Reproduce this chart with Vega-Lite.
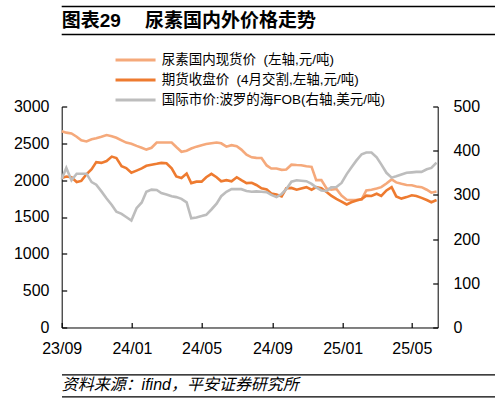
{
  "$schema": "https://vega.github.io/schema/vega-lite/v6.json",
  "padding": {"left": 12.7, "top": 5.5, "right": 5, "bottom": 4},
  "spacing": 16,
  "resolve": {"scale": {"color": "independent"}, "legend": {"color": "independent"}},
  "config": {"view": {"stroke": null}, "font": "Liberation Sans, Noto Sans CJK SC"},
  "datasets": {
    "urea": [
      {"date": "2023-09-01", "spot": 2665, "fut": 2030, "fob": 336},
      {"date": "2023-09-09", "spot": 2645, "fut": 2050, "fob": 361},
      {"date": "2023-09-18", "spot": 2635, "fut": 2040, "fob": 333},
      {"date": "2023-09-27", "spot": 2590, "fut": 1975, "fob": 348},
      {"date": "2023-10-05", "spot": 2540, "fut": 1990, "fob": 348},
      {"date": "2023-10-14", "spot": 2525, "fut": 2080, "fob": 348},
      {"date": "2023-10-23", "spot": 2556, "fut": 2150, "fob": 329},
      {"date": "2023-10-31", "spot": 2570, "fut": 2245, "fob": 323},
      {"date": "2023-11-09", "spot": 2590, "fut": 2235, "fob": 308},
      {"date": "2023-11-18", "spot": 2612, "fut": 2260, "fob": 292},
      {"date": "2023-11-27", "spot": 2595, "fut": 2320, "fob": 277},
      {"date": "2023-12-05", "spot": 2575, "fut": 2300, "fob": 262},
      {"date": "2023-12-14", "spot": 2540, "fut": 2190, "fob": 257},
      {"date": "2023-12-22", "spot": 2510, "fut": 2165, "fob": 250},
      {"date": "2023-12-31", "spot": 2495, "fut": 2100, "fob": 242},
      {"date": "2024-01-09", "spot": 2465, "fut": 2130, "fob": 270},
      {"date": "2024-01-18", "spot": 2440, "fut": 2160, "fob": 283},
      {"date": "2024-01-26", "spot": 2415, "fut": 2195, "fob": 307},
      {"date": "2024-02-04", "spot": 2440, "fut": 2210, "fob": 312},
      {"date": "2024-02-13", "spot": 2511, "fut": 2222, "fob": 311},
      {"date": "2024-02-21", "spot": 2511, "fut": 2235, "fob": 304},
      {"date": "2024-03-01", "spot": 2511, "fut": 2230, "fob": 301},
      {"date": "2024-03-10", "spot": 2511, "fut": 2160, "fob": 297},
      {"date": "2024-03-18", "spot": 2450, "fut": 2050, "fob": 295},
      {"date": "2024-03-27", "spot": 2385, "fut": 2030, "fob": 291},
      {"date": "2024-04-05", "spot": 2400, "fut": 2090, "fob": 283},
      {"date": "2024-04-13", "spot": 2430, "fut": 1960, "fob": 247},
      {"date": "2024-04-22", "spot": 2455, "fut": 1980, "fob": 249},
      {"date": "2024-05-01", "spot": 2475, "fut": 1980, "fob": 252},
      {"date": "2024-05-09", "spot": 2490, "fut": 2040, "fob": 255},
      {"date": "2024-05-18", "spot": 2500, "fut": 2085, "fob": 267},
      {"date": "2024-05-27", "spot": 2511, "fut": 2040, "fob": 280},
      {"date": "2024-06-04", "spot": 2500, "fut": 1985, "fob": 297},
      {"date": "2024-06-13", "spot": 2455, "fut": 2000, "fob": 307},
      {"date": "2024-06-22", "spot": 2475, "fut": 1985, "fob": 313},
      {"date": "2024-07-01", "spot": 2460, "fut": 2040, "fob": 313},
      {"date": "2024-07-09", "spot": 2415, "fut": 2000, "fob": 313},
      {"date": "2024-07-18", "spot": 2345, "fut": 1960, "fob": 309},
      {"date": "2024-07-27", "spot": 2310, "fut": 1965, "fob": 307},
      {"date": "2024-08-04", "spot": 2303, "fut": 1935, "fob": 308},
      {"date": "2024-08-13", "spot": 2300, "fut": 1890, "fob": 307},
      {"date": "2024-08-22", "spot": 2200, "fut": 1875, "fob": 306},
      {"date": "2024-08-30", "spot": 2158, "fut": 1820, "fob": 300},
      {"date": "2024-09-08", "spot": 2158, "fut": 1805, "fob": 295},
      {"date": "2024-09-17", "spot": 2140, "fut": 1780, "fob": 302},
      {"date": "2024-09-25", "spot": 2145, "fut": 1890, "fob": 313},
      {"date": "2024-10-04", "spot": 2210, "fut": 1895, "fob": 330},
      {"date": "2024-10-13", "spot": 2205, "fut": 1870, "fob": 333},
      {"date": "2024-10-21", "spot": 2203, "fut": 1887, "fob": 332},
      {"date": "2024-10-30", "spot": 2190, "fut": 1905, "fob": 331},
      {"date": "2024-11-08", "spot": 2181, "fut": 1870, "fob": 325},
      {"date": "2024-11-16", "spot": 2000, "fut": 1905, "fob": 317},
      {"date": "2024-11-25", "spot": 2000, "fut": 1890, "fob": 310},
      {"date": "2024-12-04", "spot": 1887, "fut": 1840, "fob": 309},
      {"date": "2024-12-12", "spot": 1870, "fut": 1790, "fob": 317},
      {"date": "2024-12-21", "spot": 1880, "fut": 1745, "fob": 318},
      {"date": "2024-12-30", "spot": 1790, "fut": 1710, "fob": 327},
      {"date": "2025-01-08", "spot": 1735, "fut": 1670, "fob": 347},
      {"date": "2025-01-16", "spot": 1730, "fut": 1700, "fob": 362},
      {"date": "2025-01-25", "spot": 1732, "fut": 1725, "fob": 378},
      {"date": "2025-02-03", "spot": 1738, "fut": 1745, "fob": 392},
      {"date": "2025-02-11", "spot": 1860, "fut": 1790, "fob": 396},
      {"date": "2025-02-20", "spot": 1870, "fut": 1785, "fob": 396},
      {"date": "2025-03-01", "spot": 1887, "fut": 1815, "fob": 385},
      {"date": "2025-03-09", "spot": 1905, "fut": 1785, "fob": 369},
      {"date": "2025-03-18", "spot": 1955, "fut": 1860, "fob": 350},
      {"date": "2025-03-27", "spot": 2010, "fut": 1905, "fob": 339},
      {"date": "2025-04-04", "spot": 1970, "fut": 1780, "fob": 342},
      {"date": "2025-04-13", "spot": 1950, "fut": 1750, "fob": 346},
      {"date": "2025-04-22", "spot": 1935, "fut": 1770, "fob": 350},
      {"date": "2025-05-01", "spot": 1930, "fut": 1795, "fob": 351},
      {"date": "2025-05-09", "spot": 1915, "fut": 1785, "fob": 352},
      {"date": "2025-05-18", "spot": 1905, "fut": 1760, "fob": 352},
      {"date": "2025-05-27", "spot": 1870, "fut": 1730, "fob": 358},
      {"date": "2025-06-04", "spot": 1830, "fut": 1700, "fob": 361},
      {"date": "2025-06-13", "spot": 1845, "fut": 1730, "fob": 373}
    ]
  },
  "vconcat": [
    {
      "width": 476,
      "height": 28,
      "view": {"stroke": "#000", "strokeWidth": 1.5, "strokeDash": [476, 28]},
      "data": {"values": [{"label": "图表29\u3000\u00a0尿素国内外价格走势"}]},
      "mark": {"type": "text", "align": "left", "baseline": "middle", "fontSize": 19, "fontWeight": "bold", "font": "Liberation Sans, Noto Sans CJK SC", "color": "#000"},
      "encoding": {
        "x": {"datum": 0, "type": "quantitative", "scale": {"domain": [0, 1]}, "axis": null},
        "y": {"datum": 0.5, "type": "quantitative", "scale": {"domain": [0, 1]}, "axis": null},
        "text": {"field": "label"}
      }
    },
    {
      "width": 376,
      "height": 221,
      "data": {"name": "urea"},
      "encoding": {
        "x": {
          "field": "date",
          "type": "temporal",
          "scale": {"type": "utc", "domain": [{"year": 2023, "month": 9, "date": 1, "utc": true}, {"year": 2025, "month": 6, "date": 15, "utc": true}]},
          "axis": {
            "title": null,
            "grid": false,
            "values": [
              {"year": 2023, "month": 9, "date": 1, "utc": true},
              {"year": 2024, "month": 1, "date": 1, "utc": true},
              {"year": 2024, "month": 5, "date": 1, "utc": true},
              {"year": 2024, "month": 9, "date": 1, "utc": true},
              {"year": 2025, "month": 1, "date": 1, "utc": true},
              {"year": 2025, "month": 5, "date": 1, "utc": true}
            ],
            "labelExpr": "utcFormat(datum.value, '%y/%m')",
            "labelFlush": false,
            "labelOverlap": false,
            "domainColor": "#000",
            "ticks": true,
            "tickColor": "#000",
            "tickWidth": 1.2,
            "tickSize": -5,
            "labelPadding": 18.5,
            "labelFontSize": 16,
            "labelFont": "Liberation Sans",
            "labelColor": "#000"
          }
        }
      },
      "layer": [
        {
          "transform": [{"fold": ["spot", "fut"], "as": ["series", "price"]}],
          "mark": {"type": "line", "strokeWidth": 2.6},
          "encoding": {
            "y": {
              "field": "price",
              "type": "quantitative",
              "scale": {"domain": [0, 3000]},
              "axis": {
                "orient": "left",
                "title": null,
                "grid": false,
                "values": [0, 500, 1000, 1500, 2000, 2500, 3000],
                "format": "d",
                "domainColor": "#000",
                "ticks": true,
                "tickColor": "#000",
                "tickWidth": 1.2,
                "tickSize": -5,
                "labelPadding": 17.7,
                "labelFontSize": 16,
                "labelFont": "Liberation Sans",
                "labelColor": "#000"
              }
            },
            "color": {
              "field": "series",
              "type": "nominal",
              "scale": {"domain": ["spot", "fut", "fob"], "range": ["#F5A97B", "#EE7B30", "#BDBDBD"]},
              "legend": {
                "orient": "none",
                "legendX": 52,
                "legendY": -55,
                "title": null,
                "direction": "vertical",
                "padding": 0,
                "symbolType": "M-1,0H5",
                "symbolSize": 178,
                "symbolStrokeWidth": 3,
                "labelOffset": 31,
                "rowPadding": 5,
                "labelFontSize": 13.5,
                "labelFont": "Liberation Sans, Noto Sans CJK SC",
                "labelColor": "#000",
                "labelLimit": 400,
                "labelExpr": "datum.value == 'spot' ? '尿素国内现货价\u00a0\u00a0(左轴,元/吨)' : datum.value == 'fut' ? '期货收盘价\u00a0\u00a0(4月交割,左轴,元/吨)' : '国际市价:波罗的海FOB(右轴,美元/吨)'"
              }
            }
          }
        },
        {
          "transform": [{"fold": ["fob"], "as": ["series", "price"]}],
          "mark": {"type": "line", "strokeWidth": 2.6},
          "encoding": {
            "y": {
              "field": "price",
              "type": "quantitative",
              "scale": {"domain": [0, 500]},
              "axis": {
                "orient": "right",
                "title": null,
                "grid": false,
                "values": [0, 100, 200, 300, 400, 500],
                "format": "d",
                "domainColor": "#000",
                "ticks": true,
                "tickColor": "#000",
                "tickWidth": 1.2,
                "tickSize": -5,
                "labelPadding": 20.2,
                "labelFontSize": 16,
                "labelFont": "Liberation Sans",
                "labelColor": "#000"
              }
            },
            "color": {
              "field": "series",
              "type": "nominal",
              "scale": {"domain": ["spot", "fut", "fob"], "range": ["#F5A97B", "#EE7B30", "#BDBDBD"]}
            }
          }
        }
      ],
      "resolve": {"scale": {"y": "independent"}}
    },
    {
      "width": 476,
      "height": 22,
      "view": {"stroke": "#000", "strokeWidth": 1.2, "strokeDash": [476, 22]},
      "data": {"values": [{"label": "资料来源：ifind，平安证券研究所"}]},
      "mark": {"type": "text", "align": "left", "baseline": "middle", "fontSize": 16, "fontStyle": "italic", "font": "Liberation Sans, Noto Sans CJK SC", "color": "#000"},
      "encoding": {
        "x": {"datum": 0, "type": "quantitative", "scale": {"domain": [0, 1]}, "axis": null},
        "y": {"datum": 0.5, "type": "quantitative", "scale": {"domain": [0, 1]}, "axis": null},
        "text": {"field": "label"}
      }
    }
  ]
}
